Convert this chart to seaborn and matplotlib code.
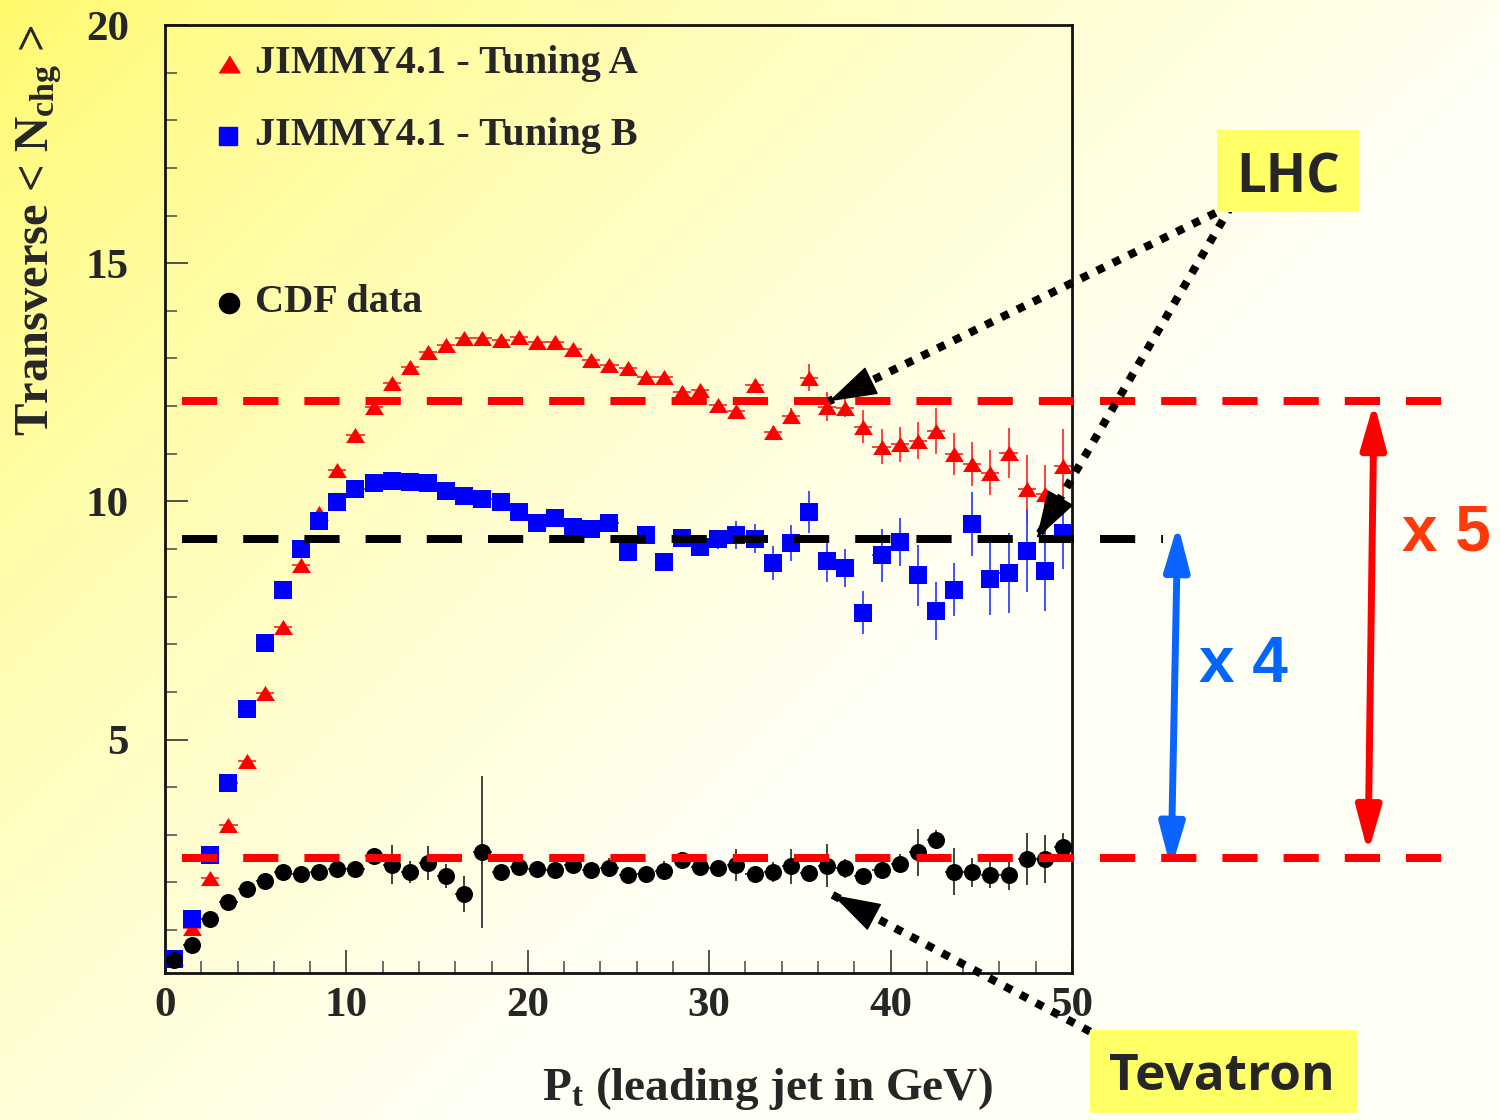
import numpy as np
import pandas as pd
import matplotlib
matplotlib.use("Agg")
import matplotlib.pyplot as plt
import seaborn as sns
from matplotlib.patches import Rectangle
from matplotlib.ticker import MultipleLocator

# ---------------- data ----------------
pt_bins = [0.5, 1.5, 2.5, 3.5, 4.5, 5.5, 6.5, 7.5, 8.5, 9.5,
           10.5, 11.5, 12.5, 13.5, 14.5, 15.5, 16.5, 17.5, 18.5, 19.5,
           20.5, 21.5, 22.5, 23.5, 24.5, 25.5, 26.5, 27.5, 28.5, 29.5,
           30.5, 31.5, 32.5, 33.5, 34.5, 35.5, 36.5, 37.5, 38.5, 39.5,
           40.5, 41.5, 42.5, 43.5, 44.5, 45.5, 46.5, 47.5, 48.5, 49.5]

tuning_a = [0.42, 1.05, 2.10, 3.20, 4.54, 5.97, 7.37, 8.66, 9.75, 10.66,
            11.39, 11.99, 12.48, 12.83, 13.14, 13.29, 13.43, 13.43, 13.39, 13.46,
            13.35, 13.35, 13.19, 12.96, 12.87, 12.81, 12.62, 12.62, 12.30, 12.33,
            12.02, 11.89, 12.44, 11.46, 11.79, 12.60, 11.99, 11.97, 11.57, 11.15,
            11.20, 11.27, 11.48, 10.99, 10.78, 10.60, 11.02, 10.27, 10.15, 10.74]
tuning_a_err = [0.05, 0.05, 0.05, 0.05, 0.05, 0.05, 0.05, 0.05, 0.05, 0.05,
                0.05, 0.05, 0.05, 0.05, 0.05, 0.05, 0.05, 0.05, 0.05, 0.05,
                0.05, 0.05, 0.05, 0.05, 0.05, 0.05, 0.05, 0.06, 0.06, 0.07,
                0.08, 0.08, 0.12, 0.12, 0.17, 0.28, 0.30, 0.20, 0.35, 0.37,
                0.37, 0.39, 0.48, 0.44, 0.46, 0.47, 0.52, 0.70, 0.62, 0.77]

tuning_b = [0.40, 1.24, 2.58, 4.08, 5.65, 7.02, 8.13, 9.01, 9.59, 9.99,
            10.25, 10.38, 10.42, 10.41, 10.39, 10.21, 10.11, 10.06, 9.99, 9.78,
            9.55, 9.65, 9.47, 9.41, 9.55, 8.94, 9.29, 8.73, 9.24, 9.05,
            9.20, 9.29, 9.22, 8.71, 9.12, 9.78, 8.75, 8.61, 7.66, 8.87,
            9.15, 8.45, 7.70, 8.15, 9.52, 8.37, 8.50, 8.96, 8.54, 9.34]
tuning_b_err = [0.05, 0.05, 0.05, 0.05, 0.05, 0.05, 0.05, 0.05, 0.05, 0.05,
                0.05, 0.05, 0.05, 0.05, 0.05, 0.05, 0.05, 0.05, 0.06, 0.07,
                0.10, 0.10, 0.10, 0.10, 0.10, 0.12, 0.12, 0.12, 0.12, 0.15,
                0.20, 0.29, 0.30, 0.35, 0.38, 0.44, 0.45, 0.40, 0.45, 0.56,
                0.50, 0.64, 0.60, 0.56, 0.67, 0.76, 0.84, 0.87, 0.84, 0.76]

cdf_data = [0.38, 0.69, 1.23, 1.60, 1.86, 2.04, 2.22, 2.18, 2.21, 2.28,
            2.28, 2.55, 2.37, 2.22, 2.41, 2.14, 1.76, 2.64, 2.23, 2.32,
            2.28, 2.27, 2.37, 2.27, 2.31, 2.15, 2.18, 2.25, 2.48, 2.33,
            2.30, 2.37, 2.18, 2.22, 2.34, 2.20, 2.35, 2.30, 2.13, 2.27,
            2.39, 2.63, 2.90, 2.23, 2.21, 2.16, 2.16, 2.49, 2.49, 2.74]
cdf_err = [0.05, 0.05, 0.05, 0.05, 0.05, 0.05, 0.05, 0.05, 0.08, 0.14,
           0.14, 0.17, 0.41, 0.24, 0.36, 0.25, 0.38, 1.60, 0.10, 0.10,
           0.10, 0.12, 0.15, 0.12, 0.20, 0.12, 0.12, 0.20, 0.12, 0.20,
           0.15, 0.33, 0.12, 0.22, 0.37, 0.12, 0.45, 0.20, 0.15, 0.12,
           0.20, 0.49, 0.20, 0.49, 0.30, 0.28, 0.32, 0.54, 0.50, 0.30]

lhc_level_a = 12.10      # red dashed (Tuning A plateau)
lhc_level_b = 9.22       # black dashed (Tuning B plateau)
tevatron_level = 2.52    # red dashed (CDF plateau)

x_ticks = [0, 10, 20, 30, 40, 50]
y_ticks = [5, 10, 15, 20]
legend_labels = ["JIMMY4.1 - Tuning A", "JIMMY4.1 - Tuning B", "CDF data"]

df_a = pd.DataFrame({"pt": pt_bins, "n": tuning_a, "err": tuning_a_err})
df_b = pd.DataFrame({"pt": pt_bins, "n": tuning_b, "err": tuning_b_err})
df_c = pd.DataFrame({"pt": pt_bins, "n": cdf_data, "err": cdf_err})

# ---------------- style ----------------
sns.set_style("ticks")
plt.rcParams['font.family'] = ['Liberation Serif', 'DejaVu Serif']
plt.rcParams['font.weight'] = 'bold'
plt.rcParams['mathtext.fontset'] = 'custom'
plt.rcParams['mathtext.rm'] = 'Liberation Serif:bold'
plt.rcParams['mathtext.it'] = 'Liberation Serif:bold'
plt.rcParams['mathtext.bf'] = 'Liberation Serif:bold'

W, H = 1500, 1120
fig = plt.figure(figsize=(15, 11.2), dpi=100)

# background gradient (yellow top-left -> near white)
bg = fig.add_axes([0, 0, 1, 1], zorder=-10)
xx, yy = np.meshgrid(np.linspace(0, 1, 300), np.linspace(0, 1, 224))
t = np.clip((xx + 0.75 * yy) / 1.05, 0, 1) ** 0.75
c0 = np.array([255, 250, 105]) / 255
c1 = np.array([255, 255, 245]) / 255
img = c0[None, None, :] * (1 - t[..., None]) + c1[None, None, :] * t[..., None]
bg.imshow(img, aspect='auto', extent=[0, 1, 0, 1], origin='upper')
bg.axis('off')

ax = fig.add_axes([165 / W, 1 - 973 / H, (1072 - 165) / W, (973 - 25) / H])
ax.set_facecolor('none')
ax.set_xlim(0, 50)
ax.set_ylim(0.1, 20)

tri = [(-1, -0.8), (1, -0.8), (0, 0.8)]

# error bars
ax.errorbar(df_a.pt, df_a.n, yerr=df_a.err, xerr=0.5, fmt='none',
            ecolor='#FF3333', elinewidth=1.3, capsize=0, zorder=2)
ax.errorbar(df_b.pt, df_b.n, yerr=df_b.err, xerr=0.5, fmt='none',
            ecolor='#3344FF', elinewidth=1.3, capsize=0, zorder=2)
ax.errorbar(df_c.pt, df_c.n, yerr=df_c.err, xerr=0.5, fmt='none',
            ecolor='#333333', elinewidth=1.3, capsize=0, zorder=2)

# markers
sns.scatterplot(data=df_a, x="pt", y="n", marker=tri, s=185, color='#FF0000',
                linewidth=0, ax=ax, zorder=3, legend=False)
sns.scatterplot(data=df_b, x="pt", y="n", marker='s', s=150, color='#0000FF',
                linewidth=0, ax=ax, zorder=3, legend=False)
sns.scatterplot(data=df_c, x="pt", y="n", marker='o', s=150, color='#000000',
                linewidth=0, ax=ax, zorder=4, legend=False)

# dashed plateau lines (extending beyond the frame)
lw_dash = 5.76
ax.plot([0.94, 71.8], [lhc_level_a] * 2, color='#FF0000', lw=lw_dash,
        dashes=(4.4, 3.25), clip_on=False, zorder=6)
ax.plot([0.94, 55.0], [lhc_level_b] * 2, color='#000000', lw=lw_dash,
        dashes=(4.4, 3.25), clip_on=False, zorder=6)
ax.plot([0.94, 71.8], [tevatron_level] * 2, color='#FF0000', lw=lw_dash,
        dashes=(4.4, 3.25), clip_on=False, zorder=6)

# axes / ticks
ax.set_xticks(x_ticks)
ax.set_yticks(y_ticks)
ax.xaxis.set_minor_locator(MultipleLocator(2))
ax.yaxis.set_minor_locator(MultipleLocator(1))
ax.tick_params(axis='both', which='major', direction='in', length=16.5, width=1.2,
               color='#333333', labelsize=31, top=False, right=False)
ax.tick_params(axis='both', which='minor', direction='in', length=8.5, width=1.2,
               color='#555555', top=False, right=False)
ax.tick_params(axis='x', which='major', pad=10)
ax.tick_params(axis='y', which='major', pad=26)
for lab in ax.get_xticklabels() + ax.get_yticklabels():
    lab.set_fontweight('bold')
for sp in ax.spines.values():
    sp.set_linewidth(2.0)
    sp.set_color('#111111')
    sp.set_visible(True)
ax.set_xlabel('')
ax.set_ylabel('')

# axis titles
fig.text(993 / W, 1 - 1100 / H, r'P$_{\mathrm{t}}$ (leading jet in GeV)',
         ha='right', va='baseline', fontsize=34, fontweight='bold')
fig.text(14 / W, 1 - 25 / H, r'Transverse < N$_{\mathrm{chg}}$ >', rotation=90,
         ha='left', va='top', fontsize=35, fontweight='bold')

# legend (manual, ROOT-like)
ax.plot([0.0706], [0.9585], marker=tri, ms=15, color='#FF0000', lw=0,
        transform=ax.transAxes, clip_on=False, zorder=7)
ax.plot([0.0700], [0.8830], marker='s', ms=13.5, color='#0000FF', lw=0,
        transform=ax.transAxes, clip_on=False, zorder=7)
ax.plot([0.0706], [0.7064], marker='o', ms=14.5, color='#000000', lw=0,
        transform=ax.transAxes, clip_on=False, zorder=7)
for ytxt, lab in zip([0.9497, 0.8734, 0.6976], legend_labels):
    ax.text(0.0995, ytxt, lab, transform=ax.transAxes, ha='left', va='baseline',
            fontsize=29, fontweight='bold', zorder=7)

# LHC / Tevatron boxes
fig.patches.append(Rectangle((1217 / W, 1 - 212 / H), 142 / W, 82 / H,
                             transform=fig.transFigure, facecolor='#FFFF66',
                             edgecolor='none', zorder=1))
fig.text(1288 / W, 1 - 192 / H, 'LHC', ha='center', va='baseline', fontsize=38,
         fontfamily='Open Sans', fontweight='bold', zorder=8)
fig.patches.append(Rectangle((1090 / W, 1 - 1113 / H), 267 / W, 83 / H,
                             transform=fig.transFigure, facecolor='#FFFF66',
                             edgecolor='none', zorder=1))
fig.text(1222 / W, 1 - 1090 / H, 'Tevatron', ha='center', va='baseline', fontsize=37,
         fontfamily='Open Sans', fontweight='bold', zorder=8)


def dotted_arrow(tail, tip):
    ax.plot([tail[0], tip[0]], [tail[1], tip[1]], color='k', lw=5.8,
            dashes=(1.0, 1.2), dash_capstyle='butt', clip_on=False, zorder=8)
    p0 = ax.transData.transform(tail)
    p1 = ax.transData.transform(tip)
    d_pt = np.hypot(*(p1 - p0)) * 72 / fig.dpi
    ax.annotate('', xy=tip, xytext=tail, xycoords='data', textcoords='data',
                annotation_clip=False,
                arrowprops=dict(arrowstyle='-|>,head_length=3.2,head_width=1.0',
                                mutation_scale=10, lw=1, color='k',
                                shrinkA=d_pt - 33, shrinkB=0), zorder=9)


dotted_arrow((58.8, 16.22), (36.6, lhc_level_a))
dotted_arrow((58.8, 16.22), (48.05, lhc_level_b))
dotted_arrow((51.0, -1.13), (36.8, 1.74))

# ratio arrows
ax.annotate('', xy=(55.46, tevatron_level - 0.25), xytext=(55.83, lhc_level_b + 0.3),
            xycoords='data', textcoords='data', annotation_clip=False,
            arrowprops=dict(arrowstyle='<|-|>,head_length=2.7,head_width=0.75',
                            mutation_scale=10, lw=5, color='#0A64FF',
                            shrinkA=0, shrinkB=0))
ax.annotate('', xy=(66.32, tevatron_level + 0.1), xytext=(66.65, lhc_level_a - 0.02),
            xycoords='data', textcoords='data', annotation_clip=False,
            arrowprops=dict(arrowstyle='<|-|>,head_length=2.7,head_width=0.75',
                            mutation_scale=10, lw=5, color='#FF0000',
                            shrinkA=0, shrinkB=0))
fig.text(1243 / W, 1 - 682 / H, 'x 4', ha='center', va='baseline', fontsize=46,
         fontfamily='Liberation Sans', fontweight='bold', color='#0066FF')
fig.text(1446 / W, 1 - 551 / H, 'x 5', ha='center', va='baseline', fontsize=46,
         fontfamily='Liberation Sans', fontweight='bold', color='#FF3A0A')

fig.savefig('out.png', dpi=100)
